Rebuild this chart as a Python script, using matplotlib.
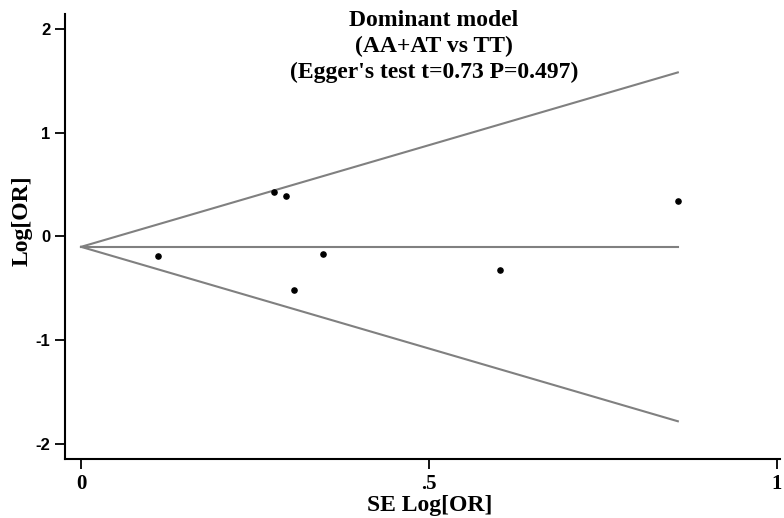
import numpy as np
import matplotlib.pyplot as plt

# study estimates
se_logor = [0.111, 0.277, 0.294, 0.306, 0.348, 0.602, 0.858]
logor = [-0.193, 0.428, 0.390, -0.515, -0.171, -0.322, 0.345]
pooled = -0.10

title_lines = ["Dominant model", "(AA+AT vs TT)", "(Egger's test t=0.73 P=0.497)"]
xticks = [0, 0.5, 1]
xtick_labels = ["0", ".5", "1"]
yticks = [-2, -1, 0, 1, 2]

fig = plt.figure(figsize=(7.84, 5.18), dpi=100)
ax = fig.add_axes([0.083, 0.114, 0.912, 0.859])

# pseudo 95% confidence limits
se_max = max(se_logor)
se_line = np.array([0, se_max])
ax.plot(se_line, pooled + 1.96 * se_line, color='#808080', lw=1.5)
ax.plot(se_line, pooled - 1.96 * se_line, color='#808080', lw=1.5)
ax.plot(se_line, [pooled, pooled], color='#808080', lw=1.5)

ax.scatter(se_logor, logor, s=14, color='black', zorder=3)

ax.set_xlim(-0.023, 1.005)
ax.set_ylim(-2.145, 2.145)

ax.spines['top'].set_visible(False)
ax.spines['right'].set_visible(False)
ax.spines['left'].set_linewidth(1.5)
ax.spines['bottom'].set_linewidth(1.5)

ax.set_xticks(xticks)
ax.set_xticklabels(xtick_labels, fontfamily='Liberation Serif', fontweight='bold', fontsize=15)
ax.set_yticks(yticks)
ax.set_yticklabels([str(v) for v in yticks], fontfamily='Liberation Sans', fontweight='bold', fontsize=12)
ax.tick_params(axis='both', direction='out', length=7, width=1.3)

ax.set_xlabel("SE Log[OR]", fontfamily='Liberation Serif', fontweight='bold', fontsize=17, labelpad=1)
ax.xaxis.label.set_x(0.51)
ax.set_ylabel("Log[OR]", fontfamily='Liberation Serif', fontweight='bold', fontsize=17)
ax.yaxis.set_label_coords(-0.046, 0.535)

ax.text(0.507, 2.18, "\n".join(title_lines), ha='center', va='top',
        fontfamily='Liberation Serif', fontweight='bold', fontsize=17, linespacing=1.3)

fig.savefig('out.png', dpi=100)
